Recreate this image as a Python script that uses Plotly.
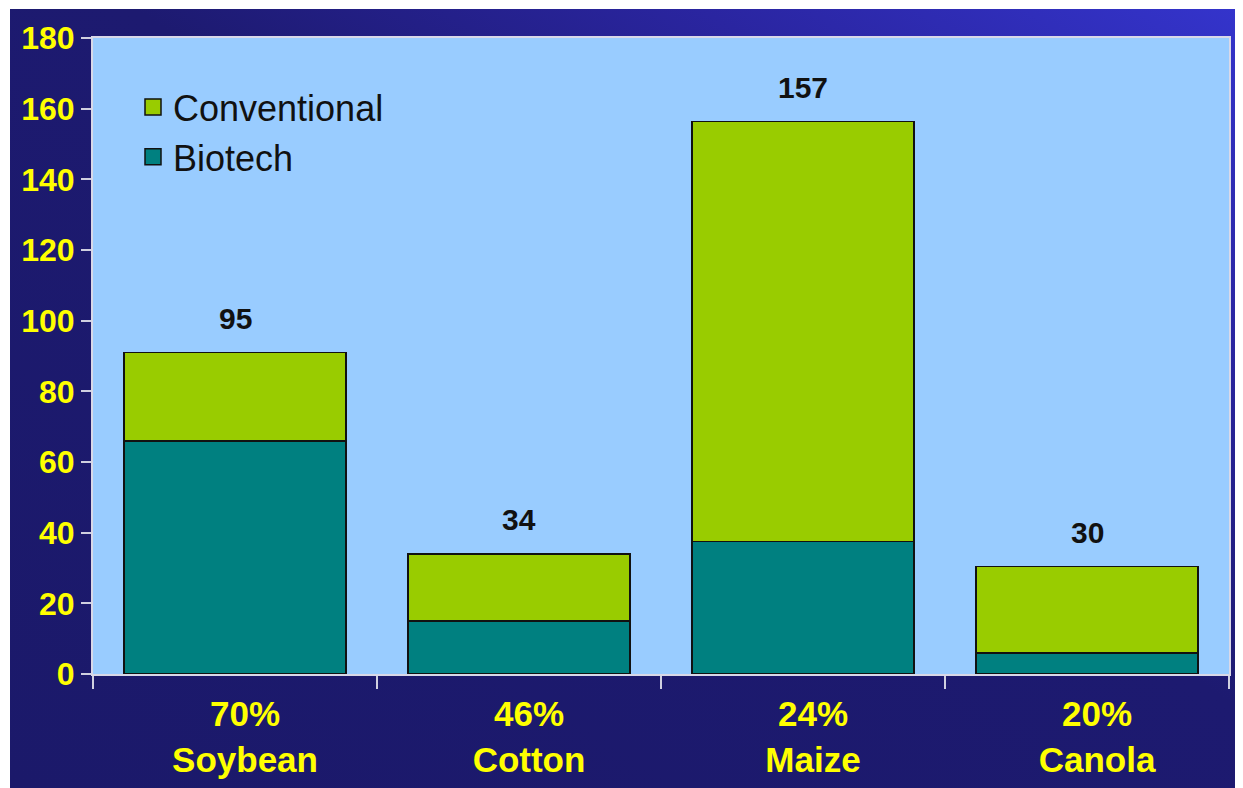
import base64
import plotly.graph_objects as go

# ---- data ----
crops = ["Soybean", "Cotton", "Maize", "Canola"]
biotech_share = ["70%", "46%", "24%", "20%"]
biotech = [66, 15, 37.5, 6]
conventional = [25, 19, 118.8, 24.4]
total_labels = ["95", "34", "157", "30"]
y_ticks = [0, 20, 40, 60, 80, 100, 120, 140, 160, 180]

# ---- layout geometry (figure pixels; page body adds an 8px margin) ----
W, H = 1235, 780
L, R, T, B = 85, 14, 30, 114
pw, ph = W - L - R, H - T - B

def px_x(p):
    return (p - L) / pw

def px_y(p):
    return (H - B - p) / ph

tick_text = [f"{s}<br>{c}" for s, c in zip(biotech_share, crops)]
totals = [b + c for b, c in zip(biotech, conventional)]

colors = {"Biotech": "#008080", "Conventional": "#99CC00"}

fig = go.Figure()
fig.add_trace(go.Bar(
    name="Biotech", x=crops, y=biotech, showlegend=False, legendgroup="b",
    marker=dict(color=colors["Biotech"], line=dict(color="#111111", width=1.5)),
))
fig.add_trace(go.Bar(
    name="Conventional", x=crops, y=conventional, showlegend=False, legendgroup="c",
    marker=dict(color=colors["Conventional"], line=dict(color="#111111", width=1.5)),
))
# legend entries with larger square swatches
for nm, grp in [("Biotech", "b"), ("Conventional", "c")]:
    fig.add_trace(go.Scatter(
        name=nm, x=[None], y=[None], mode="markers", legendgroup=grp,
        marker=dict(symbol="square", size=18, color=colors[nm],
                    line=dict(color="#111111", width=1.5)),
    ))

for c, t, lab in zip(crops, totals, total_labels):
    fig.add_annotation(x=c, y=t, text=lab, showarrow=False, yshift=34,
                       font=dict(family="Liberation Sans, Arial", size=30,
                                 color="#111111", weight="bold"))

# gradient background as svg image
svg = f'''<svg xmlns="http://www.w3.org/2000/svg" width="{W}" height="{H}" preserveAspectRatio="none">
<defs><linearGradient id="g" x1="0" y1="1" x2="1" y2="0">
<stop offset="0" stop-color="#1B196A"/>
<stop offset="0.55" stop-color="#1D1A70"/>
<stop offset="0.78" stop-color="#2A25A0"/>
<stop offset="1" stop-color="#3434CC"/>
</linearGradient></defs>
<rect width="100%" height="100%" fill="url(#g)"/></svg>'''
uri = "data:image/svg+xml;base64," + base64.b64encode(svg.encode()).decode()

fig.add_layout_image(dict(
    source=uri, xref="paper", yref="paper",
    x=px_x(2), y=px_y(1), sizex=px_x(W) - px_x(2), sizey=px_y(1) - px_y(H),
    xanchor="left", yanchor="top", sizing="stretch", layer="below",
))
fig.add_shape(type="rect", xref="paper", yref="paper", x0=0, x1=1, y0=0, y1=1,
              fillcolor="#99CCFF", line=dict(width=0), layer="below")

fig.update_layout(
    width=W, height=H,
    margin=dict(l=L, r=R, t=T, b=B, autoexpand=False),
    paper_bgcolor="white",
    plot_bgcolor="#99CCFF",
    barmode="stack",
    bargap=0.22,
    showlegend=True,
    legend=dict(
        x=px_x(125), y=px_y(69), xanchor="left", yanchor="top",
        bgcolor="rgba(0,0,0,0)", traceorder="reversed",
        font=dict(family="Liberation Sans, Arial", size=36, color="#111111"),
        itemsizing="trace",
    ),
    xaxis=dict(
        tickmode="array", tickvals=crops, ticktext=tick_text,
        tickson="boundaries", ticks="outside", ticklen=13, tickwidth=2,
        tickcolor="#D0D0E0", automargin=False,
        showline=True, linecolor="#D8D8E8", linewidth=2, mirror=True,
        showgrid=False,
        ticklabelshift=10, ticklabelstandoff=8,
        tickfont=dict(family="Liberation Sans, Arial", size=35, color="#FFFF00",
                      weight="bold"),
    ),
    yaxis=dict(
        range=[0, 180], tickvals=y_ticks, automargin=False,
        ticks="outside", ticklen=10, tickwidth=2, tickcolor="#D0D0E0",
        showline=True, linecolor="#D8D8E8", linewidth=2, mirror=True,
        showgrid=False, zeroline=False,
        tickfont=dict(family="Liberation Sans, Arial", size=32, color="#FFFF00",
                      weight="bold"),
    ),
)

fig.write_html("out.html")
